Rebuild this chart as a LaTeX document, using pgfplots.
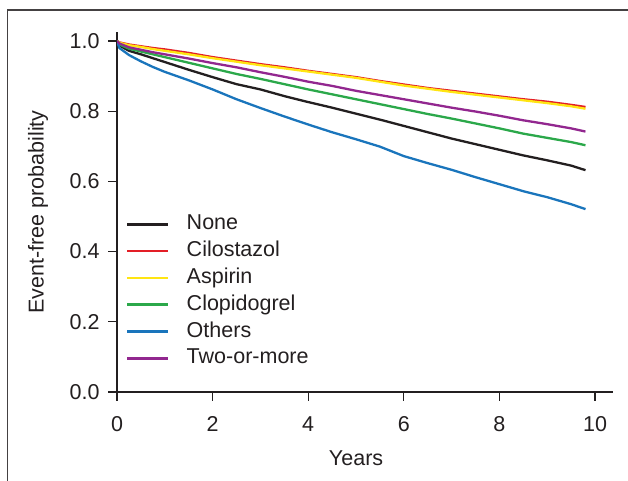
\documentclass[border=0pt]{standalone}
\usepackage{fontspec}
\setmainfont{Liberation Sans}
\usepackage{pgfplots}
\pgfplotsset{compat=1.18}

\definecolor{kmblack}{HTML}{231F20}
\definecolor{kmred}{HTML}{E31E26}
\definecolor{kmyellow}{HTML}{FFE512}
\definecolor{kmgreen}{HTML}{2BA84A}
\definecolor{kmblue}{HTML}{1A75BC}
\definecolor{kmpurple}{HTML}{92278F}

\begin{document}
\begin{tikzpicture}
  \useasboundingbox (0pt,0pt) rectangle (628pt,481pt);
  % frame of the figure panel
  \draw[kmblack!85, line width=1.4pt] (7.5pt,0pt) -- (7.5pt,471pt) -- (628pt,471pt);

  \begin{axis}[
      at={(117pt,89pt)}, anchor=south west,
      scale only axis,
      width=496pt, height=360pt,
      xmin=0, xmax=10.376,
      ymin=0, ymax=1.0256,
      axis x line*=bottom,
      axis y line*=left,
      axis line style={kmblack, line width=1.3pt, -},
      tick style={kmblack, line width=1.3pt},
      tick align=outside,
      major tick length=9pt,
      xtick={0,2,4,6,8,10},
      ytick={0,0.2,0.4,0.6,0.8,1.0},
      /pgf/number format/assume math mode=true,
      yticklabel style={/pgf/number format/fixed,
        /pgf/number format/fixed zerofill,
        /pgf/number format/precision=1, xshift=-5pt},
      ticklabel style={font=\fontsize{21.5}{25}\selectfont, text=kmblack},
      xticklabel style={yshift=-12pt},
      label style={font=\fontsize{21.5}{25}\selectfont, text=kmblack},
      xlabel={Years},
      xlabel style={at={(rel axis cs:0.482,-0.185)}, anchor=center},
      ylabel={Event-free probability},
      ylabel style={at={(rel axis cs:-0.159,0.5)}, anchor=center},
      legend cell align=left,
      legend image code/.code={\draw[line width=2.6pt] (0pt,0pt) -- (41pt,0pt);},
      legend style={draw=none, fill=none,
        at={(rel axis cs:0.018,0.494)}, anchor=north west,
        inner sep=0pt, row sep=6.8pt, column sep=17pt,
        font=\fontsize{21.5}{25}\selectfont, text=kmblack,
        nodes={inner sep=0pt, text height=15.5pt, text depth=4.5pt}},
      every axis plot/.append style={line width=2.3pt},
    ]

    % None
    \addplot[kmblack] coordinates {
      (0,1.000)(0.05,0.987)(0.25,0.972)(0.5,0.962)(0.75,0.951)(1,0.940)
      (1.5,0.918)(2,0.897)(2.5,0.877)(3,0.862)(3.5,0.843)(4,0.826)
      (4.5,0.810)(5,0.793)(5.5,0.776)(6,0.758)(6.5,0.740)(7,0.722)
      (7.5,0.706)(8,0.690)(8.5,0.674)(9,0.660)(9.5,0.645)(9.8,0.632)};
    \addlegendentry{None}

    % Cilostazol
    \addplot[kmred] coordinates {
      (0,1.000)(0.05,0.996)(0.25,0.990)(0.5,0.985)(0.75,0.980)(1,0.976)
      (1.5,0.966)(2,0.954)(2.5,0.944)(3,0.934)(3.5,0.925)(4,0.915)
      (4.5,0.906)(5,0.897)(5.5,0.886)(6,0.876)(6.5,0.866)(7,0.858)
      (7.5,0.850)(8,0.842)(8.5,0.834)(9,0.827)(9.5,0.818)(9.8,0.812)};
    \addlegendentry{Cilostazol}

    % Aspirin
    \addplot[kmyellow] coordinates {
      (0,1.000)(0.05,0.995)(0.25,0.988)(0.5,0.983)(0.75,0.977)(1,0.972)
      (1.5,0.962)(2,0.951)(2.5,0.941)(3,0.931)(3.5,0.922)(4,0.913)
      (4.5,0.904)(5,0.895)(5.5,0.884)(6,0.873)(6.5,0.864)(7,0.855)
      (7.5,0.847)(8,0.839)(8.5,0.831)(9,0.823)(9.5,0.814)(9.8,0.807)};
    \addlegendentry{Aspirin}

    % Clopidogrel
    \addplot[kmgreen] coordinates {
      (0,1.000)(0.05,0.990)(0.25,0.978)(0.5,0.970)(0.75,0.962)(1,0.954)
      (1.5,0.938)(2,0.922)(2.5,0.906)(3,0.892)(3.5,0.877)(4,0.862)
      (4.5,0.848)(5,0.834)(5.5,0.820)(6,0.806)(6.5,0.792)(7,0.779)
      (7.5,0.765)(8,0.751)(8.5,0.736)(9,0.724)(9.5,0.712)(9.8,0.703)};
    \addlegendentry{Clopidogrel}

    % Others
    \addplot[kmblue] coordinates {
      (0,1.000)(0.05,0.980)(0.25,0.960)(0.5,0.942)(0.75,0.926)(1,0.912)
      (1.5,0.888)(2,0.862)(2.5,0.834)(3,0.809)(3.5,0.785)(4,0.762)
      (4.5,0.740)(5,0.720)(5.5,0.699)(6,0.672)(6.5,0.652)(7,0.633)
      (7.5,0.612)(8,0.592)(8.5,0.572)(9,0.555)(9.5,0.535)(9.8,0.521)};
    \addlegendentry{Others}

    % Two-or-more
    \addplot[kmpurple] coordinates {
      (0,1.000)(0.05,0.993)(0.25,0.982)(0.5,0.975)(0.75,0.968)(1,0.962)
      (1.5,0.950)(2,0.937)(2.5,0.925)(3,0.911)(3.5,0.898)(4,0.884)
      (4.5,0.872)(5,0.858)(5.5,0.846)(6,0.834)(6.5,0.822)(7,0.810)
      (7.5,0.799)(8,0.787)(8.5,0.774)(9,0.763)(9.5,0.751)(9.8,0.742)};
    \addlegendentry{Two-or-more}
  \end{axis}
\end{tikzpicture}
\end{document}
